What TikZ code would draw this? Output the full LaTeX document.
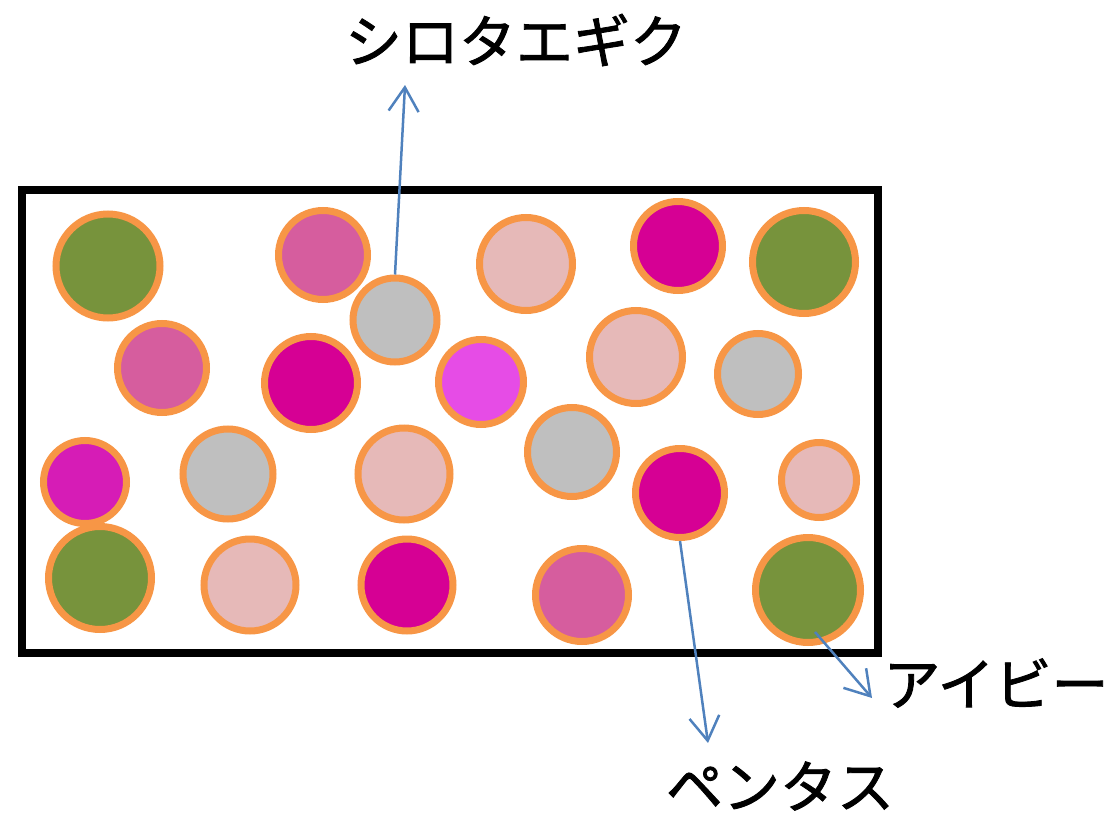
\documentclass[tikz,border=0pt]{standalone}
\usepackage{fontspec}
\newfontfamily\cjk[FakeBold=1.5]{Noto Sans CJK JP}
\usetikzlibrary{arrows.meta}
\definecolor{cgreen}{HTML}{77933C}
\definecolor{cmauve}{HTML}{D65D9E}
\definecolor{clpink}{HTML}{E6B9B8}
\definecolor{cmag}{HTML}{D60094}
\definecolor{cgray}{HTML}{BFBFBF}
\definecolor{cviolet}{HTML}{E64CE6}
\definecolor{cpurp}{HTML}{D61CB6}
\definecolor{corange}{HTML}{F79646}
\definecolor{cblue}{HTML}{4F81BD}
\tikzset{
  ball/.style={circle, draw=corange, line width=7pt, inner sep=0pt, minimum size=#1},
  lbl/.style={font=\cjk\fontsize{57}{62}\selectfont, inner sep=0pt},
  pointer/.style={draw=cblue, line width=2.5pt, -{Straight Barb[length=24pt,width=30pt,line width=2.5pt]}},
}
\begin{document}
\begin{tikzpicture}[x=1pt,y=-1pt]
\useasboundingbox (0,0) rectangle (1117,819);
\draw[line width=8pt] (22,190) rectangle (878,653);
% row 1
\node[ball=104pt, fill=cgreen]  (c1)  at (108,266) {};
\node[ball=89pt,  fill=cmauve]  (c2)  at (323,255) {};
\node[ball=93pt,  fill=clpink]  (c3)  at (526,264) {};
\node[ball=89pt,  fill=cmag]    (c4)  at (678,246) {};
\node[ball=103pt, fill=cgreen]  (c5)  at (804,262) {};
\node[ball=84pt,  fill=cgray]   (c6)  at (395,320) {};
% row 2
\node[ball=89pt,  fill=cmauve]  (c7)  at (162,368) {};
\node[ball=93pt,  fill=cmag]    (c8)  at (311,383) {};
\node[ball=85pt,  fill=cviolet] (c9)  at (481,382) {};
\node[ball=93pt,  fill=clpink]  (c10) at (636,357) {};
\node[ball=81pt,  fill=cgray]   (c11) at (758,374) {};
% row 3
\node[ball=83pt,  fill=cpurp]   (c12) at (85,482) {};
\node[ball=90pt,  fill=cgray]   (c13) at (228,474) {};
\node[ball=92pt,  fill=clpink]  (c14) at (404,474) {};
\node[ball=89pt,  fill=cgray]   (c15) at (572,452) {};
\node[ball=89pt,  fill=cmag]    (c16) at (680,493) {};
\node[ball=75pt,  fill=clpink]  (c17) at (819,480) {};
% row 4
\node[ball=103pt, fill=cgreen]  (c18) at (100,578) {};
\node[ball=92pt,  fill=clpink]  (c19) at (250,585) {};
\node[ball=92pt,  fill=cmag]    (c20) at (407,585) {};
\node[ball=93pt,  fill=cmauve]  (c21) at (582,595) {};
\node[ball=105pt, fill=cgreen]  (c22) at (808,590) {};
% labels
\node[lbl] (t1) at (516,40) {シロタエギク};
\node[lbl] (t2) at (996,683) {アイビー};
\node[lbl] (t3) at (780,786) {ペンタス};
\coordinate (e1) at (405,85);
\coordinate (e2) at (708,743);
\coordinate (e3) at (872,698);
\coordinate (s3) at (815,632);
\draw[pointer] (c6.north) -- (e1);
\draw[pointer] (c16.south) -- (e2);
\draw[pointer] (s3) -- (e3);
\end{tikzpicture}
\end{document}
